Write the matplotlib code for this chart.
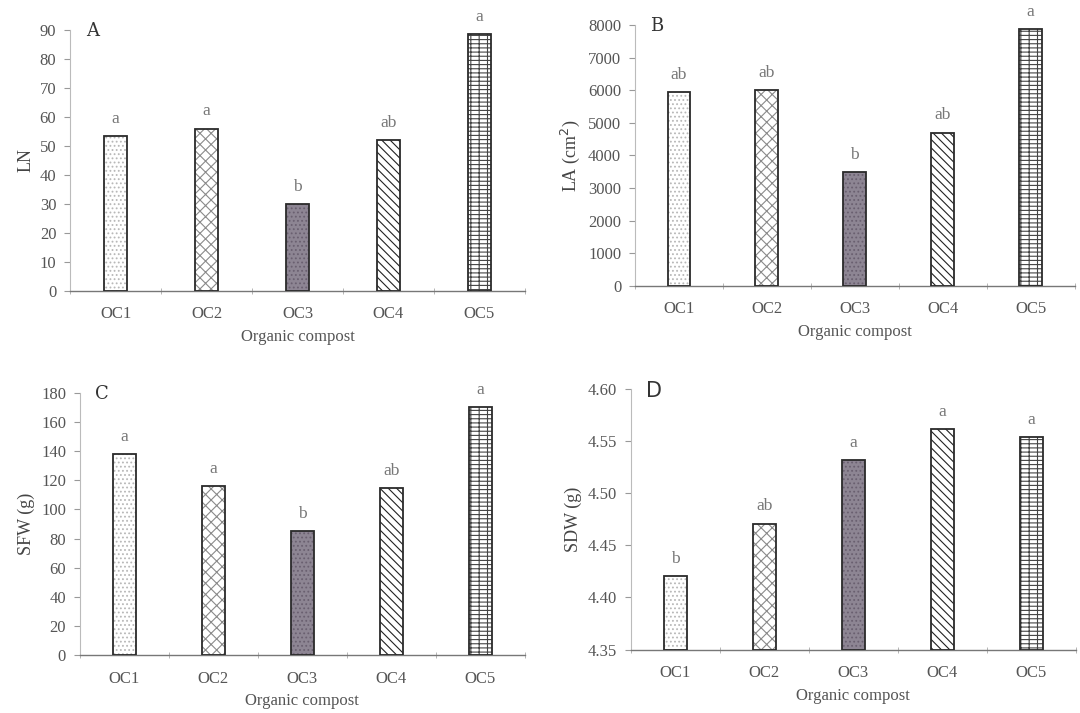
import numpy as np
import matplotlib
matplotlib.use("Agg")
import matplotlib.pyplot as plt

plt.rcParams['font.family'] = ['Liberation Serif', 'DejaVu Serif']
plt.rcParams['hatch.linewidth'] = 0.8

# data
composts = ['OC1', 'OC2', 'OC3', 'OC4', 'OC5']

ln_vals = [53.5, 56, 30, 52, 88.5]
ln_letters = ['a', 'a', 'b', 'ab', 'a']

la_vals = [5950, 6010, 3480, 4700, 7870]
la_letters = ['ab', 'ab', 'b', 'ab', 'a']

sfw_vals = [138, 116, 85, 114.5, 170]
sfw_letters = ['a', 'a', 'b', 'ab', 'a']

sdw_vals = [4.421, 4.471, 4.532, 4.562, 4.554]
sdw_letters = ['b', 'ab', 'a', 'a', 'a']

# bar looks: fill colour, hatch, hatch colour
fills = ['white', 'white', '#8d8593', 'white', 'white']
hatches = ['....', 'xxx', '....', '\\\\\\\\', '----||']
hatch_cols = ['#b8b8b8', '#8a8a8a', '#6a6070', '#222222', '#444444']

txt = '#555555'

fig = plt.figure(figsize=(10.8, 7.13), dpi=100)

panels = [
    # rect, values, letters, ylim, yticks, ylabel, tag, tag font, tag size
    ([0.065, 0.592, 0.421, 0.366], ln_vals, ln_letters, (0, 90),
     np.arange(0, 91, 10), 'LN', 'A', 'serif', 13),
    ([0.588, 0.599, 0.407, 0.366], la_vals, la_letters, (0, 8000),
     np.arange(0, 8001, 1000), 'LA (cm$^2$)', 'B', 'serif', 13),
    ([0.074, 0.081, 0.412, 0.368], sfw_vals, sfw_letters, (0, 180),
     np.arange(0, 181, 20), 'SFW (g)', 'C', 'serif', 13),
    ([0.584, 0.089, 0.412, 0.365], sdw_vals, sdw_letters, (4.35, 4.60),
     np.arange(4.35, 4.601, 0.05), 'SDW (g)', 'D', 'sans-serif', 15),
]

x = np.arange(len(composts))

for rect, vals, letters, ylim, yticks, ylab, tag, tagfont, tagsize in panels:
    ax = fig.add_axes(rect)
    base = ylim[0]
    heights = [v - base for v in vals]
    # hatch layer (edge colour drives the hatch colour)
    for i in range(len(x)):
        ax.bar(x[i], heights[i], width=0.26, bottom=base, color=fills[i],
               hatch=hatches[i], edgecolor=hatch_cols[i], linewidth=0,
               zorder=2)
    # outline layer
    ax.bar(x, heights, width=0.26, bottom=base, fill=False,
           edgecolor='#2a2a2a', linewidth=1.3, zorder=3)

    span = ylim[1] - ylim[0]
    for xi, v, lt in zip(x, vals, letters):
        ax.text(xi, v + span * 0.035, lt, ha='center', va='bottom',
                fontsize=12.5, color='#777777')

    ax.set_xlim(-0.5, 4.5)
    ax.set_ylim(*ylim)
    ax.set_yticks(yticks)
    if tag == 'D':
        ax.set_yticklabels(['%.2f' % t for t in yticks])
    ax.set_xticks(x)
    ax.set_xticklabels(composts)
    ax.set_xticks(np.arange(-0.5, 4.6, 1), minor=True)

    ax.tick_params(axis='y', direction='out', length=4, color='#999999',
                   labelsize=12, labelcolor=txt, pad=6)
    ax.tick_params(axis='x', which='major', length=0, labelsize=12,
                   labelcolor=txt, pad=11)
    ax.tick_params(axis='x', which='minor', direction='inout', length=4,
                   color='#aaaaaa')

    for s in ['top', 'right']:
        ax.spines[s].set_visible(False)
    ax.spines['left'].set_color('#bbbbbb')
    ax.spines['left'].set_linewidth(0.8)
    ax.spines['bottom'].set_color('#777777')
    ax.spines['bottom'].set_linewidth(1.0)

    ax.set_ylabel(ylab, fontsize=13, color='#444444', labelpad=4)
    ax.set_xlabel('Organic compost', fontsize=12, color=txt, labelpad=5)

    ax.text(0.035, 0.995, tag, transform=ax.transAxes, ha='left',
            va='center', fontsize=tagsize, color='#333333', family=tagfont)

fig.savefig('out.png', dpi=100)
